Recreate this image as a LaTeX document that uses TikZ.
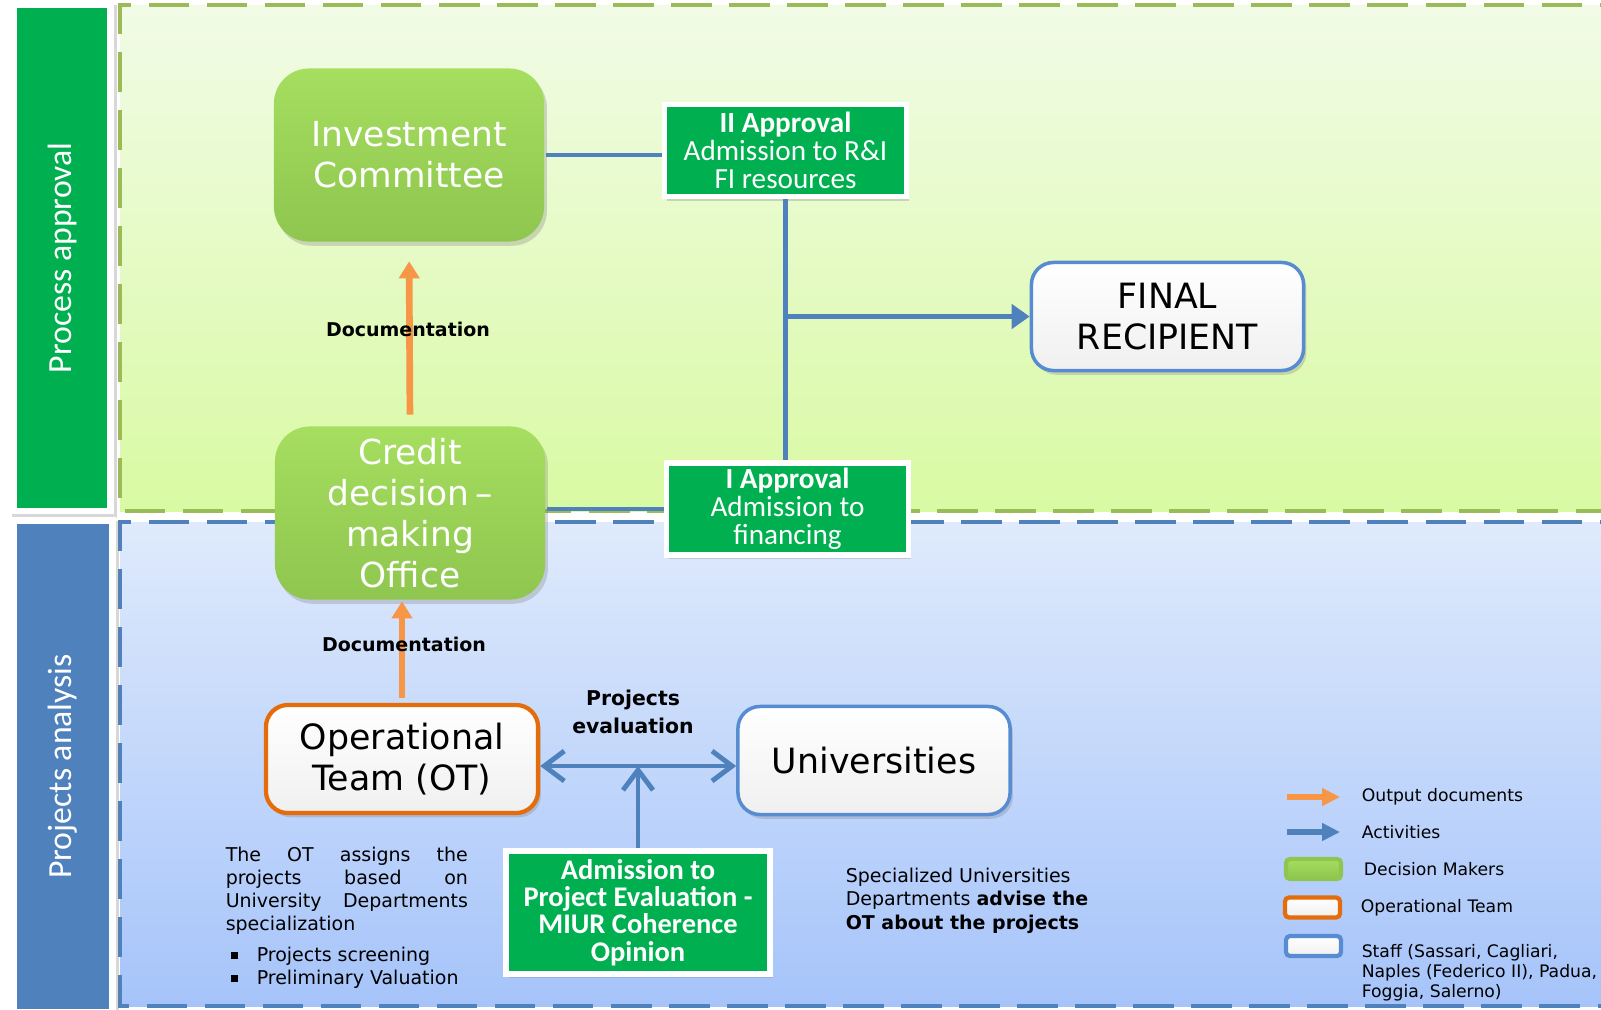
\documentclass[tikz,border=0pt]{standalone}
\usepackage{fontspec}
\setmainfont{DejaVu Sans}
\newfontfamily\calfont{Carlito}
\usepackage{tikz}
\usetikzlibrary{positioning, shadows, arrows.meta, calc}
\definecolor{okgreen}{RGB}{0,176,80}
\definecolor{sideblue}{RGB}{79,129,189}
\definecolor{actblue}{RGB}{79,129,189}
\definecolor{docorange}{RGB}{247,150,70}
\definecolor{teamorange}{RGB}{228,108,10}
\definecolor{staffblue}{RGB}{88,140,210}
\definecolor{dashgreen}{RGB}{155,187,89}
\definecolor{dashblue}{RGB}{79,129,189}
\definecolor{topA}{RGB}{241,251,230}
\definecolor{topB}{RGB}{217,250,163}
\definecolor{botA}{RGB}{223,234,252}
\definecolor{botB}{RGB}{166,196,250}
\definecolor{dmA}{RGB}{166,222,96}
\definecolor{dmB}{RGB}{142,198,79}

\begin{document}
\begin{tikzpicture}[x=0.01cm, y=-0.01cm, >=latex, line width=1pt,
		Side/.style={text=white, inner sep=0pt, font=\calfont\fontsize{9.6}{11}\selectfont},
		Panel/.style={dash pattern=on 11.5pt off 5pt, line width=1.4pt},
		Shadow/.style={drop shadow={opacity=0.3, shadow xshift=0.8pt, shadow yshift=-1.2pt}},
		Decision/.style={Shadow, rounded corners=0.35cm,
				minimum width=2.7cm, minimum height=1.73cm, inner sep=0pt,
				top color=dmA, bottom color=dmB, text=white, align=center,
				font=\fontsize{9.8}{11.7}\selectfont},
		Approval/.style={Shadow, fill=okgreen, draw=white, line width=1.6pt,
				minimum width=2.42cm, minimum height=0.92cm, inner sep=0pt,
				text=white, align=center, font=\calfont\fontsize{8.3}{7.9}\selectfont},
		Staff/.style={Shadow, rounded corners=0.22cm, draw=staffblue, line width=1pt,
				top color=white, bottom color=black!6,
				minimum width=2.72cm, minimum height=1.08cm, inner sep=0pt,
				align=center, font=\fontsize{9.9}{11.6}\selectfont},
		Team/.style={Staff, draw=teamorange, line width=1.2pt},
		Act/.style={draw=actblue, line width=1.4pt},
		Doc/.style={draw=docorange, line width=1.9pt, -{Triangle[length=0.17cm, width=0.2cm]}},
		Barb/.tip={Straight Barb[length=0.2cm, width=0.3cm]},
		DocLabel/.style={font=\bfseries\fontsize{5.4}{6.5}\selectfont, inner sep=0pt},
		Note/.style={font=\fontsize{5.4}{6.6}\selectfont, inner sep=0pt},
		Legend/.style={font=\fontsize{4.9}{5.7}\selectfont, inner sep=0pt, anchor=west, align=left},
		LegBox/.style={rounded corners=0.04cm, minimum width=0.55cm, minimum height=0.2cm,
				inner sep=0pt, line width=1.2pt}]
	\useasboundingbox (0,0) rectangle (1601,1009);
	\clip (0,0) rectangle (1601,1009);
	\fill[white] (0,0) rectangle (1601,1009);

	% panels
	\fill[top color=topA, bottom color=topB] (120,5) rectangle (1640,511);
	\draw[Panel, draw=dashgreen] (1640,5) -- (120,5) -- (120,511) -- (1640,511);
	\fill[top color=botA, bottom color=botB] (120,522) rectangle (1640,1006);
	\draw[Panel, draw=dashblue] (1640,522) -- (120,522) -- (120,1006) -- (1640,1006);

	% side bars
	\path[fill=white, Shadow] (9,1) rectangle (114,514);
	\path[fill=white, Shadow] (9,517) rectangle (116,1012);
	\node[Side, fill=okgreen, rotate=90, minimum width=5.0cm, minimum height=0.9cm] (pa) at (62,258) {Process approval};
	\node[Side, fill=sideblue, rotate=90, minimum width=4.85cm, minimum height=0.92cm] (pan) at (63,766.5) {Projects analysis};

	% boxes
	\node[Decision] (ic) at (409,155) {Investment\\Committee};
	\node[Decision] (cdo) at (410,513) {Credit\\decision\,--\\making\\Office};
	\node[Approval] (ap2) at (785.5,150.5) {\textbf{II Approval}\\Admission to R\&I\\FI resources};
	\node[Approval] (ap1) at (787.5,509) {\textbf{I Approval}\\Admission to\\financing};
	\node[Staff] (fr) at (1167.5,316.5) {FINAL\\RECIPIENT};
	\node[Team] (ot) at (402,759) {Operational\\Team (OT)};
	\node[Staff] (uni) at (874,760.5) {Universities};
	\node[Approval, minimum width=2.64cm, minimum height=1.23cm,
		font=\calfont\bfseries\fontsize{8.1}{7.8}\selectfont] (ape) at (638,912.5)
		{Admission to\\Project Evaluation -\\MIUR Coherence\\Opinion};

	% connectors
	\draw[Act] (ic.east) -- (ic.east -| ap2.west);
	\draw[Act] (ap2.south) -- (ap2.south |- ap1.north);
	\draw[Act, -{Triangle[length=0.18cm, width=0.24cm]}] (ap2.south |- fr.west) -- (fr.west);
	\draw[Act] (cdo.east |- ap1.west) -- (ap1.west);
	\draw[Doc, shorten <=0.1cm, shorten >=0.18cm] (cdo.north) -- (ic.south);
	\draw[Doc, shorten <=0.05cm] (ot.north) -- (ot.north |- cdo.south);
	\node[DocLabel] (doc1) at (408,329) {Documentation};
	\node[DocLabel] (doc2) at (404,644) {Documentation};
	\coordinate (pev) at (638,766);
	\draw[Act, {Barb}-{Barb}] (pev -| ot.east) -- (pev -| uni.west);
	\draw[Act, -{Barb}] (ape.north) -- (pev);
	\node[DocLabel, align=center, font=\bfseries\fontsize{5.8}{7.8}\selectfont] (pel) at (633,712) {Projects\\evaluation};

	% notes
	\node[Note, anchor=north west, text width=2.42cm, align=justify,
		execute at begin node={\tolerance=10000\hyphenpenalty=10000}] (otnote) at (224,845)
		{The OT assigns the\linebreak projects based on\linebreak University Departments\linebreak specialization};
	\node[Note, anchor=north west, align=left] (otlist) at (229,945)
		{\makebox[7.4pt][l]{\rule[0.6pt]{2pt}{2pt}}Projects screening\\
		 \makebox[7.4pt][l]{\rule[0.6pt]{2pt}{2pt}}Preliminary Valuation};
	\node[Note, anchor=north west, align=left, font=\fontsize{5.4}{6.7}\selectfont] (uninote) at (844,866)
		{Specialized Universities\\Departments \textbf{advise the}\\\textbf{OT about the projects}};

	% legend
	\coordinate (lg1a) at (1287,797); \coordinate (lg1b) at (1340,797);
	\coordinate (lg2a) at (1287,832); \coordinate (lg2b) at (1340,832);
	\draw[Doc, line width=1.8pt, -{Triangle[length=0.18cm, width=0.17cm]}] (lg1a) -- (lg1b);
	\draw[Act, line width=1.8pt, -{Triangle[length=0.18cm, width=0.17cm]}] (lg2a) -- (lg2b);
	\node[LegBox, top color=dmA, bottom color=dmB, draw=dmB] (lgdm) at (1313.5,869) {};
	\node[LegBox, top color=white, bottom color=black!6, draw=teamorange] (lgot) at (1312.5,907.5) {};
	\node[LegBox, top color=white, bottom color=black!6, draw=staffblue] (lgst) at (1313.5,946) {};
	\node[Legend] (lt1) at (1360,797) {Output documents};
	\node[Legend] (lt2) at (1360,832) {Activities};
	\node[Legend, right=0.19cm of lgdm] (lt3) {Decision Makers};
	\node[Legend, right=0.17cm of lgot] (lt4) {Operational Team};
	\node[Legend, anchor=north west] (lt5) at (1360,943) {Staff (Sassari, Cagliari,\\Naples (Federico II), Padua,\\Foggia, Salerno)};
\end{tikzpicture}
\end{document}
